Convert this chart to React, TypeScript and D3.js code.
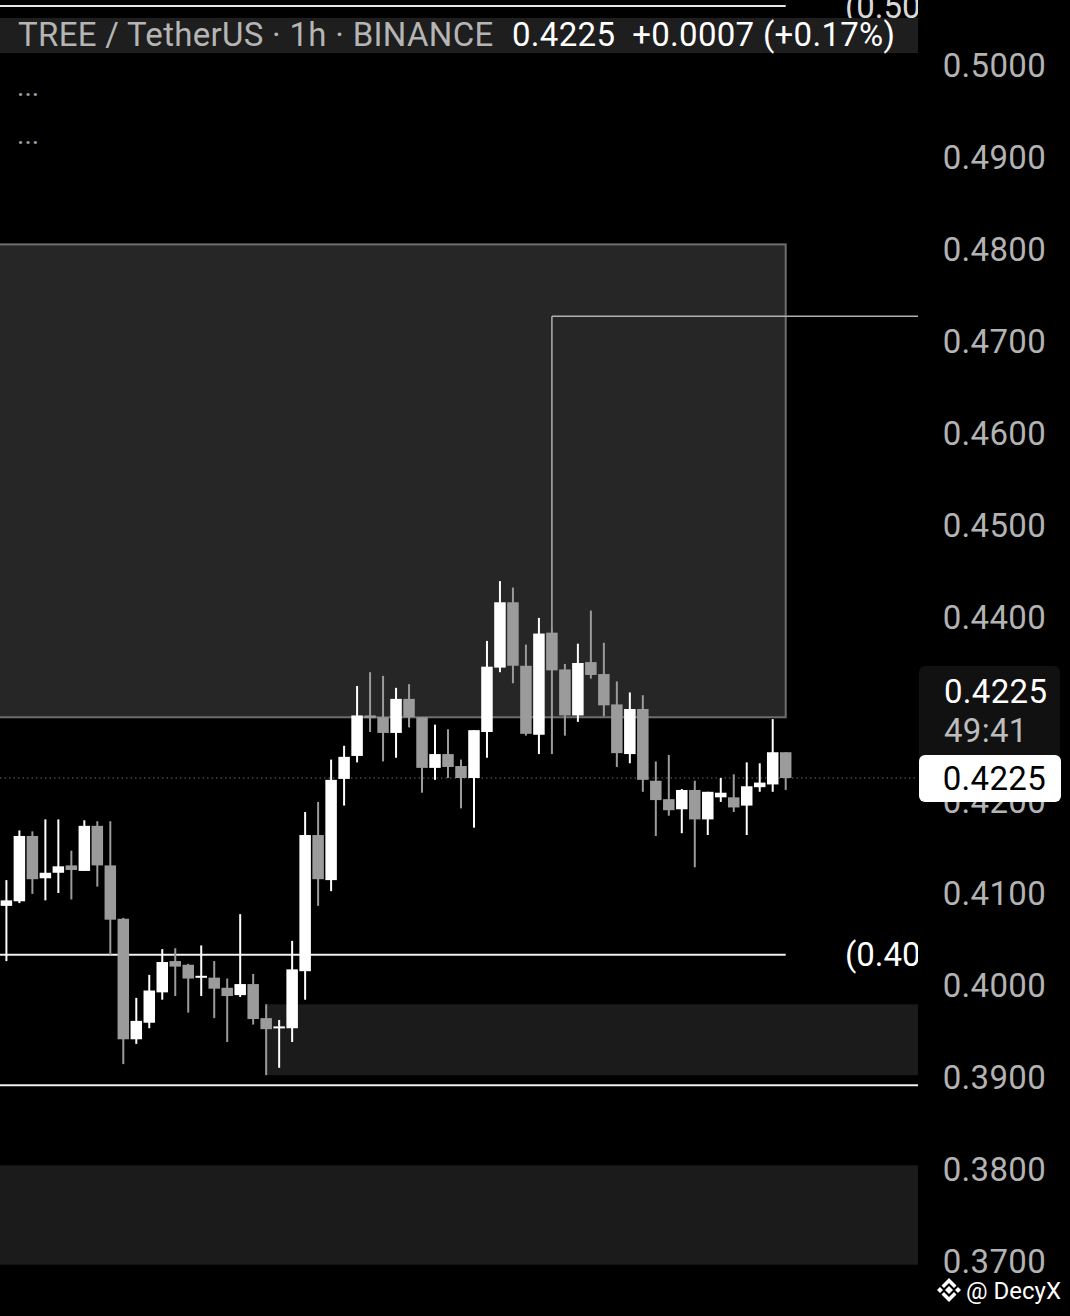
import React from "react";
import * as d3 from "d3";

// ---- data ----
const openPrices = [
  0.4086, 0.4091, 0.4162, 0.4116, 0.4122, 0.4130, 0.4124, 0.4173, 0.4130, 0.4072,
  0.3941, 0.3959, 0.3992, 0.4026, 0.4022, 0.4008, 0.4008, 0.3997, 0.3989, 0.4001,
  0.3964, 0.3953, 0.3953, 0.4015, 0.4163, 0.4114, 0.4224, 0.4249, 0.4293, 0.4291,
  0.4274, 0.4311, 0.4291, 0.4236, 0.4251, 0.4238, 0.4225, 0.4275, 0.4345, 0.4416,
  0.4347, 0.4272, 0.4383, 0.4343, 0.4293, 0.4351, 0.4338, 0.4305, 0.4251, 0.4300,
  0.4222, 0.4202, 0.4191, 0.4212, 0.4180, 0.4204, 0.4204, 0.4195, 0.4215, 0.4218, 0.4253,
];
const highPrices = [
  0.4114, 0.4168, 0.4167, 0.4180, 0.4180, 0.4146, 0.4179, 0.4178, 0.4178, 0.4073,
  0.3986, 0.4011, 0.4039, 0.4040, 0.4023, 0.4043, 0.4026, 0.4007, 0.4077, 0.4012,
  0.3979, 0.3962, 0.4048, 0.4188, 0.4199, 0.4245, 0.4260, 0.4325, 0.4340, 0.4336,
  0.4323, 0.4327, 0.4291, 0.4283, 0.4278, 0.4245, 0.4277, 0.4374, 0.4439, 0.4432,
  0.4370, 0.4399, 0.4388, 0.4349, 0.4371, 0.4407, 0.4372, 0.4330, 0.4318, 0.4315,
  0.4243, 0.4250, 0.4213, 0.4222, 0.4210, 0.4225, 0.4229, 0.4242, 0.4241, 0.4289, 0.4253,
];
const lowPrices = [
  0.4026, 0.4089, 0.4099, 0.4092, 0.4100, 0.4093, 0.4124, 0.4107, 0.4033, 0.3914,
  0.3936, 0.3953, 0.3984, 0.3988, 0.3970, 0.3988, 0.3964, 0.3938, 0.3987, 0.3957,
  0.3902, 0.3910, 0.3938, 0.3984, 0.4086, 0.4102, 0.4195, 0.4242, 0.4275, 0.4243,
  0.4247, 0.4280, 0.4209, 0.4223, 0.4225, 0.4192, 0.4171, 0.4247, 0.4340, 0.4328,
  0.4271, 0.4251, 0.4251, 0.4271, 0.4286, 0.4333, 0.4292, 0.4237, 0.4241, 0.4210,
  0.4162, 0.4184, 0.4165, 0.4128, 0.4163, 0.4199, 0.4188, 0.4163, 0.4210, 0.4210, 0.4212,
];
const closePrices = [
  0.4092, 0.4162, 0.4115, 0.4122, 0.4129, 0.4125, 0.4173, 0.4130, 0.4071, 0.3941,
  0.3961, 0.3994, 0.4025, 0.4020, 0.4007, 0.4010, 0.3996, 0.3988, 0.4001, 0.3963,
  0.3952, 0.3955, 0.4017, 0.4163, 0.4115, 0.4223, 0.4248, 0.4293, 0.4290, 0.4274,
  0.4311, 0.4291, 0.4236, 0.4251, 0.4237, 0.4225, 0.4277, 0.4346, 0.4416, 0.4347,
  0.4273, 0.4382, 0.4342, 0.4293, 0.4350, 0.4337, 0.4304, 0.4252, 0.4300, 0.4223,
  0.4201, 0.4190, 0.4212, 0.4180, 0.4210, 0.4209, 0.4193, 0.4216, 0.4220, 0.4253, 0.4225,
];

const axisTicks = [0.5, 0.49, 0.48, 0.47, 0.46, 0.45, 0.44, 0.43, 0.42, 0.41, 0.4, 0.39, 0.38, 0.37];

// drawings (prices / candle indices)
const topLevel = 0.5064;
const supplyZone = { top: 0.4805, bottom: 0.4291, endIdx: 60 };
const targetLevel = { price: 0.4727, startIdx: 42 };
const midLevel = 0.4033;
const demandZone = { top: 0.3979, bottom: 0.3902, startIdx: 20 };
const lowLevel = 0.3891;
const lowerZone = { top: 0.3804, bottom: 0.3696 };
const lastPrice = 0.4225;

const W = 1070;
const H = 1316;
const PLOT_RIGHT = 918;
const FONT = "Roboto, 'Noto Sans', sans-serif";

function BinanceIcon({ cx, cy }: { cx: number; cy: number }) {
  return (
    <g transform={`translate(${cx},${cy})`} fill="#ffffff">
      <path d="M0,-4 L4,0 L0,4 L-4,0Z" />
      <path d="M-12,0 L-9,-3 L-6,0 L-9,3Z" />
      <path d="M12,0 L9,-3 L6,0 L9,3Z" />
      <path d="M0,-12 L7.5,-4.5 L5,-2 L0,-7 L-5,-2 L-7.5,-4.5Z" />
      <path d="M0,12 L7.5,4.5 L5,2 L0,7 L-5,2 L-7.5,4.5Z" />
    </g>
  );
}

export default function App() {
  const y = d3.scaleLinear().domain([0.37, 0.5]).range([1261, 65]);
  const x = d3.scaleLinear().domain([0, 60]).range([6.4, 785.7]);
  const fmt = d3.format(".4f");
  const bodyW = 11.5;

  const candles = openPrices.map((o, i) => ({
    o,
    h: highPrices[i],
    l: lowPrices[i],
    c: closePrices[i],
    i,
  }));

  return (
    <svg
      width={W}
      height={H}
      viewBox={`0 0 ${W} ${H}`}
      style={{ position: "fixed", left: 0, top: 0, display: "block", background: "#000" }}
      fontFamily={FONT}
    >
      <defs>
        <clipPath id="plotClip">
          <rect x={0} y={0} width={PLOT_RIGHT} height={H} />
        </clipPath>
      </defs>
      <rect x={0} y={0} width={W} height={H} fill="#000" />

      <g clipPath="url(#plotClip)">
        {/* zones */}
        <rect
          x={-2}
          y={y(supplyZone.top)}
          width={x(supplyZone.endIdx) + 2}
          height={y(supplyZone.bottom) - y(supplyZone.top)}
          fill="#262626"
          stroke="#6e6e6e"
          strokeWidth={2}
        />
        <rect
          x={x(demandZone.startIdx)}
          y={y(demandZone.top)}
          width={PLOT_RIGHT - x(demandZone.startIdx)}
          height={y(demandZone.bottom) - y(demandZone.top)}
          fill="#1b1b1b"
        />
        <rect
          x={0}
          y={y(lowerZone.top)}
          width={PLOT_RIGHT}
          height={y(lowerZone.bottom) - y(lowerZone.top)}
          fill="#1b1b1b"
        />

        {/* lines */}
        <line x1={0} x2={x(60)} y1={y(topLevel)} y2={y(topLevel)} stroke="#e6e6e6" strokeWidth={2} />
        <line x1={0} x2={x(60)} y1={y(midLevel)} y2={y(midLevel)} stroke="#f0f0f0" strokeWidth={2} />
        <line x1={0} x2={PLOT_RIGHT} y1={y(lowLevel)} y2={y(lowLevel)} stroke="#f0f0f0" strokeWidth={2} />
        <line
          x1={x(targetLevel.startIdx)}
          x2={PLOT_RIGHT}
          y1={y(targetLevel.price)}
          y2={y(targetLevel.price)}
          stroke="#b0b0b0"
          strokeWidth={1.5}
        />
        <line
          x1={x(targetLevel.startIdx)}
          x2={x(targetLevel.startIdx)}
          y1={y(targetLevel.price)}
          y2={y(highPrices[targetLevel.startIdx])}
          stroke="#b0b0b0"
          strokeWidth={1.5}
        />
        <line
          x1={0}
          x2={PLOT_RIGHT}
          y1={y(lastPrice)}
          y2={y(lastPrice)}
          stroke="#6a6a6a"
          strokeWidth={1.2}
          strokeDasharray="1.5,3"
        />

        {/* candles */}
        {candles.map((d) => {
          const up = d.c >= d.o;
          const col = up ? "#ffffff" : "#9b9b9b";
          const top = y(Math.max(d.o, d.c));
          const bot = y(Math.min(d.o, d.c));
          const hgt = Math.max(2, bot - top);
          return (
            <g key={d.i}>
              <line x1={x(d.i)} x2={x(d.i)} y1={y(d.h)} y2={y(d.l)} stroke={col} strokeWidth={2} />
              <rect x={x(d.i) - bodyW / 2} y={top} width={bodyW} height={hgt} fill={col} />
            </g>
          );
        })}

        {/* line labels */}
        <text x={845} y={18} fill="#d8d8d8" fontSize={33}>(0.5064)</text>
        <text x={845} y={966} fill="#ffffff" fontSize={33}>(0.4033)</text>

        {/* header */}
        <rect x={0} y={18} width={PLOT_RIGHT} height={35} fill="#1e1e1e" />
        <text x={18} y={46} fontSize={33} fill="#b5b5b5" letterSpacing={0.3}>
          TREE / TetherUS · 1h · BINANCE
        </text>
        <text x={512} y={46} fontSize={33} fill="#ffffff" letterSpacing={0.3} xmlSpace="preserve">
          0.4225  +0.0007 (+0.17%)
        </text>
        <text x={17} y={96} fontSize={28} fill="#a0a0a0">...</text>
        <text x={17} y={144} fontSize={28} fill="#a0a0a0">...</text>
      </g>

      {/* right axis */}
      {axisTicks.map((t) => (
        <text
          key={t}
          x={1046}
          y={y(t)}
          dy="0.36em"
          textAnchor="end"
          fontSize={33}
          fill="#b3b3b3"
          letterSpacing={0.3}
        >
          {fmt(t)}
        </text>
      ))}

      {/* last price labels */}
      <rect x={919} y={666} width={141} height={96} rx={6} fill="#111111" />
      <text x={944} y={703} fontSize={33} fill="#ffffff" letterSpacing={0.3}>{fmt(lastPrice)}</text>
      <text x={944} y={742} fontSize={33} fill="#bdbdbd" letterSpacing={0.3}>49:41</text>
      <rect x={919} y={755} width={142} height={47} rx={6} fill="#ffffff" />
      <text x={1046} y={y(lastPrice)} dy="0.36em" textAnchor="end" fontSize={33} fill="#000000" letterSpacing={0.3}>
        {fmt(lastPrice)}
      </text>

      {/* watermark */}
      <BinanceIcon cx={949} cy={1290} />
      <text x={966} y={1299} fontSize={24} fill="#ffffff">@ DecyX</text>
    </svg>
  );
}
